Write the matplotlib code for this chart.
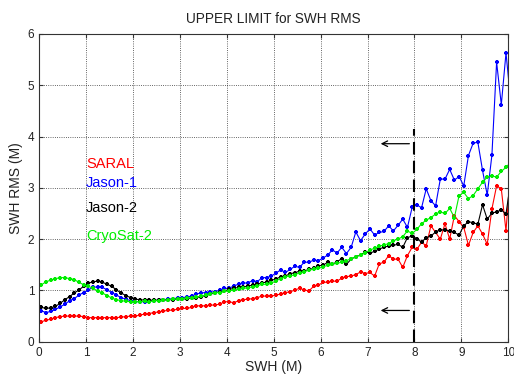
import numpy as np
import matplotlib
matplotlib.use("Agg")
import matplotlib.pyplot as plt

plt.rcParams['font.family'] = ['Liberation Sans', 'DejaVu Sans']

# SWH bins (0.1 m), last one sits just past the axis edge
swh = np.arange(101) * 0.1 + 0.05

saral = [0.39, 0.42, 0.44, 0.47, 0.49, 0.50, 0.50, 0.50, 0.50, 0.49,
         0.47, 0.47, 0.47, 0.47, 0.47, 0.47, 0.47, 0.48, 0.49, 0.50,
         0.50, 0.52, 0.54, 0.55, 0.57, 0.58, 0.60, 0.61, 0.62, 0.63,
         0.65, 0.65, 0.67, 0.70, 0.70, 0.70, 0.71, 0.72, 0.73, 0.78,
         0.78, 0.76, 0.80, 0.82, 0.83, 0.84, 0.86, 0.89, 0.89, 0.89,
         0.91, 0.93, 0.96, 0.97, 1.01, 1.04, 1.01, 0.99, 1.08, 1.10,
         1.16, 1.16, 1.18, 1.18, 1.24, 1.27, 1.28, 1.31, 1.36, 1.33,
         1.35, 1.28, 1.52, 1.55, 1.68, 1.61, 1.61, 1.45, 1.68, 1.84,
         1.80, 1.94, 1.87, 2.26, 2.13, 2.00, 2.30, 2.00, 2.46, 2.34,
         2.23, 1.88, 2.13, 2.26, 2.10, 1.90, 2.59, 3.04, 2.98, 2.16,
         3.40]

jason1 = [0.60, 0.57, 0.59, 0.63, 0.68, 0.73, 0.80, 0.84, 0.91, 0.96,
          1.01, 1.06, 1.07, 1.06, 1.01, 0.96, 0.91, 0.86, 0.83, 0.80,
          0.78, 0.78, 0.78, 0.80, 0.80, 0.81, 0.82, 0.83, 0.84, 0.85,
          0.86, 0.87, 0.89, 0.93, 0.95, 0.96, 0.97, 0.97, 1.01, 1.04,
          1.04, 1.09, 1.12, 1.14, 1.15, 1.19, 1.17, 1.25, 1.25, 1.28,
          1.34, 1.40, 1.35, 1.41, 1.47, 1.45, 1.55, 1.55, 1.59, 1.58,
          1.63, 1.69, 1.79, 1.73, 1.84, 1.72, 1.84, 2.14, 1.97, 2.10,
          2.20, 2.08, 2.13, 2.15, 2.26, 2.16, 2.27, 2.39, 2.23, 2.62,
          2.67, 2.61, 2.98, 2.75, 2.65, 3.17, 3.17, 3.36, 3.15, 3.22,
          3.04, 3.63, 3.87, 3.89, 3.34, 2.86, 3.64, 5.45, 4.62, 5.63,
          4.69]

jason2 = [0.67, 0.65, 0.66, 0.69, 0.75, 0.82, 0.88, 0.95, 1.01, 1.08,
          1.14, 1.17, 1.18, 1.16, 1.12, 1.08, 1.01, 0.95, 0.90, 0.86,
          0.83, 0.82, 0.81, 0.81, 0.81, 0.81, 0.81, 0.82, 0.82, 0.83,
          0.83, 0.84, 0.85, 0.86, 0.88, 0.90, 0.93, 0.95, 0.97, 0.99,
          1.02, 1.04, 1.06, 1.06, 1.09, 1.10, 1.12, 1.15, 1.16, 1.20,
          1.22, 1.27, 1.28, 1.33, 1.34, 1.38, 1.38, 1.41, 1.43, 1.48,
          1.49, 1.55, 1.51, 1.56, 1.62, 1.51, 1.61, 1.66, 1.69, 1.75,
          1.73, 1.76, 1.81, 1.84, 1.87, 1.88, 1.90, 1.84, 2.03, 2.06,
          2.01, 1.94, 2.03, 2.06, 2.14, 2.18, 2.18, 2.16, 2.13, 2.08,
          2.26, 2.34, 2.32, 2.29, 2.67, 2.39, 2.51, 2.53, 2.57, 2.49,
          3.13]

cryosat2 = [1.11, 1.17, 1.20, 1.23, 1.25, 1.25, 1.23, 1.21, 1.16, 1.11,
            1.08, 1.04, 0.99, 0.95, 0.90, 0.85, 0.82, 0.80, 0.79, 0.78,
            0.78, 0.78, 0.79, 0.78, 0.80, 0.80, 0.81, 0.82, 0.83, 0.83,
            0.84, 0.85, 0.86, 0.87, 0.89, 0.91, 0.94, 0.96, 0.96, 0.98,
            0.99, 1.01, 1.02, 1.04, 1.05, 1.07, 1.09, 1.12, 1.12, 1.14,
            1.19, 1.23, 1.27, 1.28, 1.31, 1.34, 1.36, 1.40, 1.41, 1.43,
            1.46, 1.49, 1.51, 1.53, 1.55, 1.58, 1.62, 1.66, 1.69, 1.73,
            1.79, 1.82, 1.86, 1.89, 1.91, 1.97, 2.00, 2.05, 2.16, 2.11,
            2.19, 2.30, 2.37, 2.42, 2.49, 2.53, 2.50, 2.60, 2.42, 2.85,
            2.91, 2.79, 2.85, 2.98, 3.11, 3.21, 3.23, 3.21, 3.32, 3.40,
            3.50]

names = ['SARAL', 'Jason-1', 'Jason-2', 'CryoSat-2']
colors = ['#ff0000', '#0000ff', '#000000', '#00ee00']
label_y = [3.47, 3.1, 2.6, 2.06]

fig = plt.figure(figsize=(5.14, 3.81), dpi=100)
ax = fig.add_axes([0.076, 0.103, 0.913, 0.808])

for vals, c in zip([saral, jason1, jason2, cryosat2], colors):
    ax.plot(swh, vals, '-', color=c, lw=0.8, marker='+', ms=3.5, mew=1.6)

for name, c, yy in zip(names, colors, label_y):
    ax.text(1.0, yy, name, color=c, fontsize=10.5, va='center', ha='left')

# threshold line and arrows
ax.plot([8, 8], [0, 4.15], '--', color='k', lw=1.5, dashes=(6, 3))
for yy in [3.86, 0.61]:
    ax.annotate('', xy=(7.22, yy), xytext=(7.95, yy),
                arrowprops=dict(arrowstyle='->', color='k', lw=0.9))

ax.set_xlim(0, 10)
ax.set_ylim(0, 6)
ax.set_xticks(range(0, 11))
ax.set_yticks(range(0, 7))
ax.grid(True, color='k', ls=':', lw=0.6, alpha=0.8)
for s in ax.spines.values():
    s.set_color('#333333')
ax.tick_params(direction='in', top=True, right=True, labelsize=8.5, length=3,
               colors='#333333', labelcolor='#222222')
ax.set_xlabel('SWH (M)', fontsize=10, labelpad=1, color='#222222')
ax.set_ylabel('SWH RMS (M)', fontsize=10, labelpad=3, color='#222222')
ax.set_title('UPPER LIMIT for SWH RMS', fontsize=9.8, pad=8, color='#222222')

fig.savefig('out.png', dpi=100)
